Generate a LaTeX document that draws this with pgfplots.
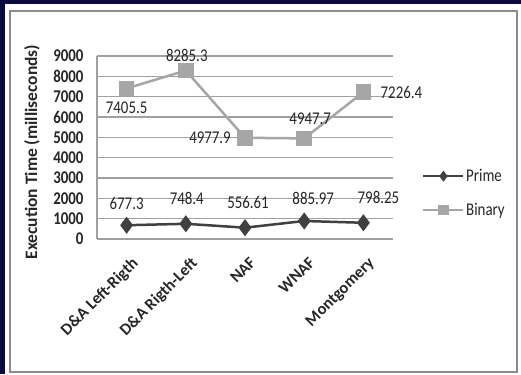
\documentclass[border=0pt]{standalone}
\usepackage{fontspec}
\setmainfont{Carlito}[FakeStretch=0.83]
\newfontfamily\ylabfont{Carlito}
\usepackage{pgfplots}
\usepackage{pgfplotstable}
\pgfplotsset{compat=1.18}
\definecolor{navybg}{HTML}{0A0A3C}
\definecolor{primec}{HTML}{404040}
\definecolor{binc}{HTML}{A6A6A6}
\definecolor{gridc}{HTML}{A0A0A0}
\definecolor{framec}{HTML}{8C8C8C}

\pgfplotsset{
  primeleg/.style={legend image code/.code={\draw[mark repeat=2, mark phase=2, ##1, mark size=3.5bp]
    plot coordinates {(0bp,0bp) (20bp,0bp) (40bp,0bp)};}},
  binleg/.style={legend image code/.code={\draw[mark repeat=2, mark phase=2, ##1, mark size=4bp]
    plot coordinates {(0bp,0bp) (20bp,0bp) (40bp,0bp)};}},
}

\pgfplotstableread{
x y dx dy label
0 7405.5 0 -19 7405.5
1 8285.3 1 15 8285.3
2 4977.9 -35 0 4977.9
3 4947.7 6 20 4947.7
4 7226.4 38 0 7226.4
}\binarytab
\pgfplotstableread{
x y dx dy label
0 677.3 0 22 677.3
1 748.4 1 25 748.4
2 556.61 3 25 556.61
3 885.97 9 23 885.97
4 798.25 15 25 798.25
}\primetab

\begin{document}
\begin{tikzpicture}[x=1bp,y=1bp]
\fill[navybg] (0,0) rectangle (521,374);
\fill[white] (5,0) rectangle (521,370);
\draw[framec, line width=2bp] (10,2) rectangle (517,363);
\begin{axis}[
  at={(97bp,135bp)}, anchor=south west,
  scale only axis, width=296bp, height=183bp,
  xmin=-0.5, xmax=4.5, ymin=0, ymax=9000,
  clip=false,
  xtick={0,1,2,3,4},
  xticklabels={D\&A Left-Rigth, D\&A Rigth-Left, NAF, WNAF, Montgomery},
  ytick={0,1000,...,9000},
  ymajorgrids, grid style={gridc, line width=1.2bp},
  axis x line*=bottom, axis y line*=left,
  axis line style={gridc, line width=1.2bp, -},
  major tick length=0pt,
  tick label style={font=\fontsize{18}{20}\selectfont\bfseries, text=black!85},
  /pgf/number format/assume math mode=true,
  /pgf/number format/1000 sep={},
  yticklabel style={xshift=-10bp},
  xticklabel style={xshift=4bp, yshift=-17bp, rotate=45, anchor=north east, inner sep=0pt,
    font=\fontsize{16.5}{18}\selectfont\ylabfont\bfseries},
  ylabel={\ylabfont\bfseries Execution Time (milliseconds)},
  ylabel style={at={(axis description cs:-0.22,0.475)}, anchor=center, font=\fontsize{17.5}{20}\selectfont, text=black!85},
  legend style={at={(1.098,0.251)}, anchor=west, draw=none, fill=none, inner sep=0pt,
    font=\fontsize{18}{20}\selectfont, text=black!85, row sep=17bp, nodes={inner sep=1.5bp}},
  legend cell align=left,
]
\addplot[color=primec, line width=2.5bp, mark=diamond*, mark size=6.5bp,
  mark options={solid, fill=primec, draw=primec},
  point meta=explicit symbolic,
  visualization depends on={\thisrow{dx} \as \dx},
  visualization depends on={\thisrow{dy} \as \dy},
  nodes near coords,
  nodes near coords style={anchor=center, inner sep=0pt, xshift=\dx bp, yshift=\dy bp,
    font=\fontsize{18}{20}\selectfont, text=black!85},
  primeleg,
] table[x=x, y=y, meta=label] {\primetab};
\addlegendentry{Prime}
\addplot[color=binc, line width=2.5bp, mark=square*, mark size=6.5bp,
  mark options={solid, fill=binc, draw=binc},
  point meta=explicit symbolic,
  visualization depends on={\thisrow{dx} \as \dx},
  visualization depends on={\thisrow{dy} \as \dy},
  nodes near coords,
  nodes near coords style={anchor=center, inner sep=0pt, xshift=\dx bp, yshift=\dy bp,
    font=\fontsize{18}{20}\selectfont, text=black!85},
  binleg,
] table[x=x, y=y, meta=label] {\binarytab};
\addlegendentry{Binary}
\end{axis}
\end{tikzpicture}
\end{document}
